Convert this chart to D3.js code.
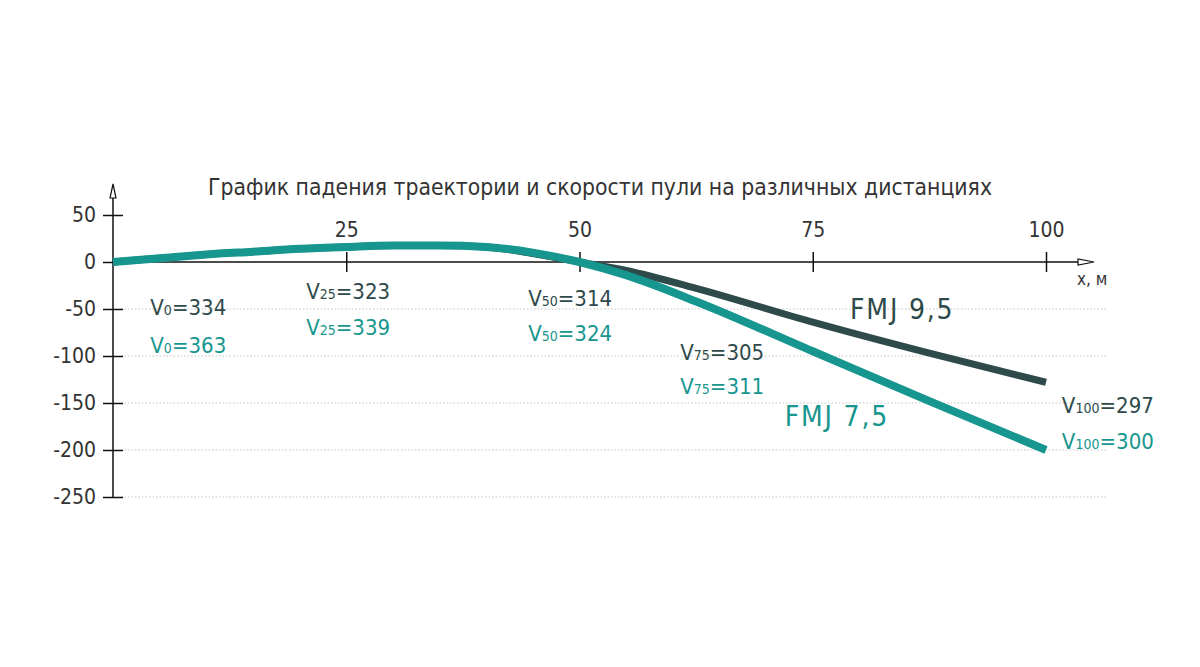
<!DOCTYPE html>
<html><head><meta charset="utf-8">
<script src="https://cdn.jsdelivr.net/npm/d3@7"></script>
<style>
html,body{margin:0;padding:0;background:#fff;}
svg{display:block;}
text{font-family:"DejaVu Sans Condensed","DejaVu Sans",sans-serif;font-stretch:condensed;}
</style></head>
<body>
<svg id="chart" width="1200" height="667"></svg>
<script>
// ---- data ----
const title = "График падения траектории и скорости пули на различных дистанциях";
const xTicks = [25, 50, 75, 100];
const yTicks = [50, 0, -50, -100, -150, -200, -250];
const gridTicks = [-50, -100, -150, -200, -250];
const trajX = [0, 5, 10, 15, 20, 25, 30, 35, 40, 45, 50, 55, 62.5, 75, 87.5, 100];
const fmj75 = [0, 4, 8, 11, 14, 16, 17.5, 17.5, 16, 10, 0, -14, -42, -95, -148, -200];
const fmj95 = [0, 4, 8, 11, 14, 16, 17.5, 17.5, 16, 9, 0, -9, -28, -64, -97, -128];
const velDist = [0, 25, 50, 75, 100];
const vel95 = [334, 323, 314, 305, 297];
const vel75 = [363, 339, 324, 311, 300];
// label anchors in data units
const velLabelX = [4, 20.7, 44.5, 60.8, 101.7];
const velLabelY95 = [-48, -31, -38, -96, -152];
const velLabelY75 = [-88, -69, -76, -132, -190];
const seriesNames = ["FMJ 9,5", "FMJ 7,5"];
const seriesLabelX = [79, 72];
const seriesLabelY = [-50, -164];
const colors = {dark: "#2e4a4a", teal: "#17968f", text: "#333"};

const svg = d3.select("#chart");
const x = d3.scaleLinear().domain([0, 100]).range([113, 1046]);
const y = d3.scaleLinear().domain([-250, 0]).range([497, 262]);

// title
svg.append("text").attr("x", 600).attr("y", 195).attr("text-anchor", "middle")
  .attr("font-size", 23.5).attr("fill", colors.text)
  .attr("textLength", 784).attr("lengthAdjust", "spacingAndGlyphs").text(title);

// grid
svg.append("g").selectAll("line").data(gridTicks).join("line")
  .attr("x1", x(0) + 8).attr("x2", 1108)
  .attr("y1", d => y(d)).attr("y2", d => y(d))
  .attr("stroke", "#c4c4c4").attr("stroke-width", 1).attr("stroke-dasharray", "1.5,2");

// y axis
const yAxis = d3.axisLeft(y).tickValues(yTicks).tickSize(10).tickPadding(8);
const gy = svg.append("g").attr("transform", `translate(${x(0)},0)`).call(yAxis);
gy.select(".domain").remove();
gy.selectAll(".tick line").attr("x2", -10).attr("x1", 10).attr("stroke", "#111").attr("stroke-width", 1.5);
gy.selectAll(".tick text").attr("font-size", 21).attr("fill", colors.text)
  .attr("font-family", '"DejaVu Sans Condensed","DejaVu Sans",sans-serif').attr("x", -17)
  .text(d => d);
svg.append("line").attr("x1", x(0)).attr("x2", x(0)).attr("y1", y(-250)).attr("y2", 186)
  .attr("stroke", "#111").attr("stroke-width", 1.5);
svg.append("path").attr("d", `M${x(0)},184 L${x(0)-3},198 L${x(0)+3},198 Z`)
  .attr("fill", "#fff").attr("stroke", "#111").attr("stroke-width", 1.2);

// x axis
const xAxis = d3.axisTop(x).tickValues(xTicks).tickSize(10).tickPadding(15);
const gx = svg.append("g").attr("transform", `translate(0,${y(0)})`).call(xAxis);
gx.select(".domain").remove();
gx.selectAll(".tick line").attr("y1", 10).attr("y2", -10).attr("stroke", "#111").attr("stroke-width", 1.5);
gx.selectAll(".tick text").attr("font-size", 21).attr("fill", colors.text)
  .attr("font-family", '"DejaVu Sans Condensed","DejaVu Sans",sans-serif');
svg.append("line").attr("x1", x(0)).attr("x2", 1080).attr("y1", y(0)).attr("y2", y(0))
  .attr("stroke", "#111").attr("stroke-width", 1.5);
svg.append("path").attr("d", `M1094,${y(0)} L1078,${y(0)-3} L1078,${y(0)+3} Z`)
  .attr("fill", "#fff").attr("stroke", "#111").attr("stroke-width", 1.2);
svg.append("text").attr("x", 1077).attr("y", 285).attr("font-size", 17).attr("fill", colors.text).text("x, м");

// lines
const line = vals => d3.line().x((d, i) => x(trajX[i])).y(d => y(d)).curve(d3.curveMonotoneX)(vals);
svg.append("path").attr("d", line(fmj95)).attr("fill", "none").attr("stroke", colors.dark)
  .attr("stroke-width", 7).attr("stroke-linecap", "butt");
svg.append("path").attr("d", line(fmj75)).attr("fill", "none").attr("stroke", colors.teal)
  .attr("stroke-width", 8).attr("stroke-linecap", "butt");

// velocity labels
function velLabel(i, v, yy, col) {
  const t = svg.append("text").attr("x", x(velLabelX[i])).attr("y", y(yy) + 8)
    .attr("font-size", 22).attr("fill", col);
  t.append("tspan").text("V");
  t.append("tspan").attr("font-size", 14).text(velDist[i]);
  t.append("tspan").text("=" + v);
}
velDist.forEach((d, i) => {
  velLabel(i, vel95[i], velLabelY95[i], colors.dark);
  velLabel(i, vel75[i], velLabelY75[i], colors.teal);
});

// series labels
svg.append("text").attr("x", x(seriesLabelX[0])).attr("y", y(seriesLabelY[0]) + 10)
  .attr("font-size", 28).attr("letter-spacing", 1.8).attr("fill", colors.dark).text(seriesNames[0]);
svg.append("text").attr("x", x(seriesLabelX[1])).attr("y", y(seriesLabelY[1]) + 10)
  .attr("font-size", 28).attr("letter-spacing", 1.8).attr("fill", colors.teal).text(seriesNames[1]);
</script>
</body></html>
